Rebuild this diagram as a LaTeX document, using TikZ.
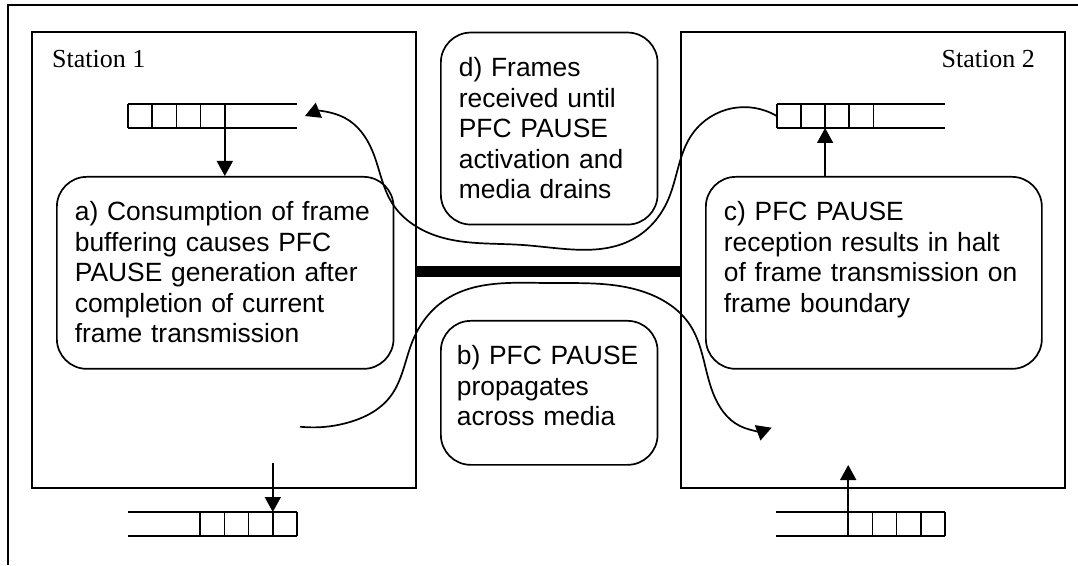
\documentclass[tikz,border=0pt]{standalone}
\usepackage{fontspec}
\setmainfont{Liberation Serif}
\newfontfamily\notefont{Liberation Sans}
\usetikzlibrary{arrows.meta,hobby}
\tikzset{
  wire/.style={line width=1.7pt},
  stationbox/.style={draw, line width=1.7pt, inner sep=0pt},
  stationlabel/.style={font=\fontsize{26}{30}\selectfont, inner sep=0pt},
  note/.style={draw, line width=1.7pt, rounded corners=30pt, anchor=north west,
    align=left, inner xsep=18pt, inner ysep=24pt, text height=20pt, text depth=#1,
    font=\notefont\fontsize{26.4}{30.5}\selectfont},
  media/.style={line width=11pt},
  flow/.style={wire, -{Triangle[length=15pt,width=16pt]}}
}

\begin{document}
\begin{tikzpicture}[x=1pt,y=1pt]
  \useasboundingbox (0,0) rectangle (1078,565);
  \draw[wire] (8,0) -- (8,560) -- (1078,560);

  \node[stationbox, minimum width=384pt, minimum height=456pt] (st1) at (224,305) {};
  \node[stationbox, minimum width=384pt, minimum height=456pt] (st2) at (873,305) {};
  \node[stationlabel, anchor=base west] (st1lbl) at (52,497) {Station 1};
  \node[stationlabel, anchor=base east] (st2lbl) at (1035,497) {Station 2};

  \node[note=124pt, text width=300.7pt] (boxa) at (56,389)
    {a) Consumption of frame\\buffering causes PFC\\PAUSE generation after\\completion of current\\frame transmission};
  \node[note=124pt, text width=180.7pt] (boxd) at (440,533.3)
    {d) Frames\\received until\\PFC PAUSE\\activation and\\media drains};
  \node[note=124pt, text width=300pt] (boxc) at (705,389)
    {c) PFC PAUSE\\reception results in halt\\of frame transmission on\\frame boundary};
  \node[note=76pt, inner xsep=16pt, text width=184.7pt] (boxb) at (440,245)
    {b) PFC PAUSE\\propagates\\across media};

  \draw[wire] (128,437) -- (297,437) (128,461) -- (297,461);
  \foreach \k in {0,...,4}
    \draw[wire] (128+24.2*\k,437) -- ++(0,24);
  \draw[wire] (776.7,437) -- (945,437) (776.7,461) -- (945,461);
  \foreach \k in {0,...,4}
    \draw[wire] (776.7+24.2*\k,437) -- ++(0,24);
  \draw[wire] (128,29) -- (297,29) (128,53) -- (297,53);
  \foreach \k in {0,...,4}
    \draw[wire] (297-24.2*\k,29) -- ++(0,24);
  \draw[wire] (776,29) -- (945,29) (776,53) -- (945,53);
  \foreach \k in {0,...,4}
    \draw[wire] (945-24.2*\k,29) -- ++(0,24);

  \coordinate (q1out) at (224.8,437);
  \coordinate (q2in) at (825.1,437);
  \coordinate (q2w) at (776.7,449);
  \coordinate (q1tip) at (305,449);
  \coordinate (q3in) at (272.8,53);
  \coordinate (st1tx) at (272.8,102);
  \coordinate (q4out) at (848.2,29);
  \coordinate (st2rx) at (848.2,100);
  \coordinate (pausesrc) at (300,138.3);
  \coordinate (pausedst) at (771.7,137.3);

  \draw[flow] (q1out) -- (boxa.north -| q1out);
  \draw[flow] (boxc.north -| q2in) -- (q2in);
  \draw[flow] (st1tx) -- (q3in);
  \draw[flow] (q4out) -- (st2rx);

  \draw[media] ([yshift=-12pt]st1.east) -- ([yshift=-12pt]st2.west);

  \draw[flow] (q2w) to[curve through={(693,432) .. (668,365) .. (635,327) .. (523,320) .. (440,328) .. (392,362) .. (372,415) .. (345,447)}] (q1tip);
  \draw[flow] (pausesrc) to[curve through={(350,143) .. (390,168) .. (413,225) .. (445,265) .. (547,282) .. (647,272) .. (690,240) .. (713,172) .. (740,139)}] (pausedst);
\end{tikzpicture}
\end{document}
